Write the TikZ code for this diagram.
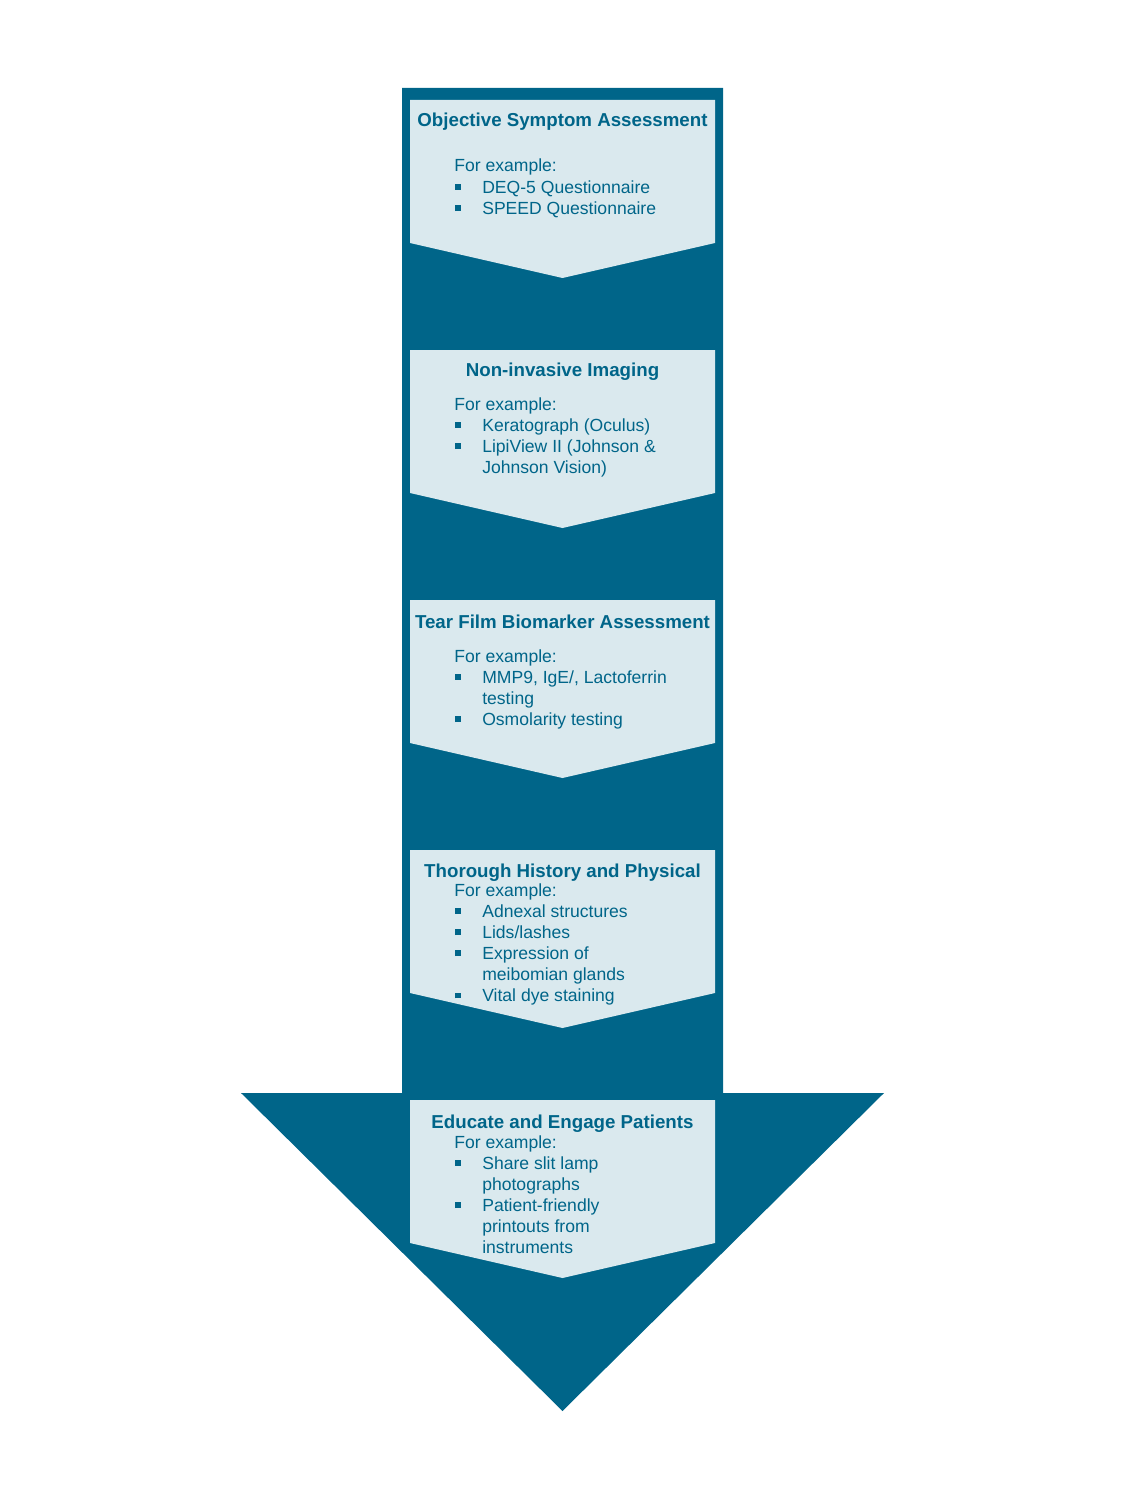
\documentclass[tikz,border=0pt]{standalone}
\usepackage{fontspec}
\setmainfont{Liberation Sans}
\definecolor{arrowteal}{RGB}{0,101,137}
\definecolor{boxteal}{RGB}{218,233,238}
\newcommand{\itm}{\makebox[15.9pt][l]{\hspace{0.6pt}\rule[1.8pt]{3.2pt}{3.2pt}}}
\newcommand{\cnt}{\hspace*{15.9pt}}
\newcommand{\steplines}[1]{\begin{tabular}[t]{@{}l@{}}#1\end{tabular}}

\begin{document}
\begin{tikzpicture}[x=0.02cm, y=-0.02cm,
			bigarrow/.style={fill=arrowteal},
			chevron/.style={fill=boxteal},
			title/.style={font=\fontsize{10.65}{12}\selectfont\bfseries, text=arrowteal, anchor=base, inner sep=0pt},
			body/.style={font=\fontsize{10}{12}\selectfont, text=arrowteal, anchor=base west, inner sep=0pt},
		]

		\useasboundingbox (0,0) rectangle (1125,1500);

		% big arrow behind the steps
		\fill[bigarrow] (402,88) -- (723,88) -- (723,1093) -- (884,1093) -- (562.5,1411)
			-- (241,1093) -- (402,1093) -- cycle;

		% step chevrons
		\foreach \top in {100,350,600,850,1100}
			\fill[chevron] (410,\top) -- (715,\top) -- (715,{\top+143}) -- (562.5,{\top+178})
				-- (410,{\top+143}) -- cycle;

		\node[title] (t1) at (562.5,127) {Objective Symptom Assessment};
		\node[body] (b1) at (454,172) {\steplines{For example:\\ \itm DEQ-5 Questionnaire\\ \itm SPEED Questionnaire}};

		\node[title] (t2) at (562.5,377) {Non-invasive Imaging};
		\node[body] (b2) at (454,410) {\steplines{For example:\\ \itm Keratograph (Oculus)\\ \itm LipiView II (Johnson \&\\ \cnt Johnson Vision)}};

		\node[title] (t3) at (562.5,628) {Tear Film Biomarker Assessment};
		\node[body] (b3) at (454,662) {\steplines{For example:\\ \itm MMP9, IgE/, Lactoferrin\\ \cnt testing\\ \itm Osmolarity testing}};

		\node[title] (t4) at (562.5,877) {Thorough History and Physical};
		\node[body] (b4) at (454,896) {\steplines{For example:\\ \itm Adnexal structures\\ \itm Lids/lashes\\ \itm Expression of\\ \cnt meibomian glands\\ \itm Vital dye staining}};

		\node[title] (t5) at (562.5,1128) {Educate and Engage Patients};
		\node[body] (b5) at (454,1148) {\steplines{For example:\\ \itm Share slit lamp\\ \cnt photographs\\ \itm Patient-friendly\\ \cnt printouts from\\ \cnt instruments}};

		\end{tikzpicture}
\end{document}
